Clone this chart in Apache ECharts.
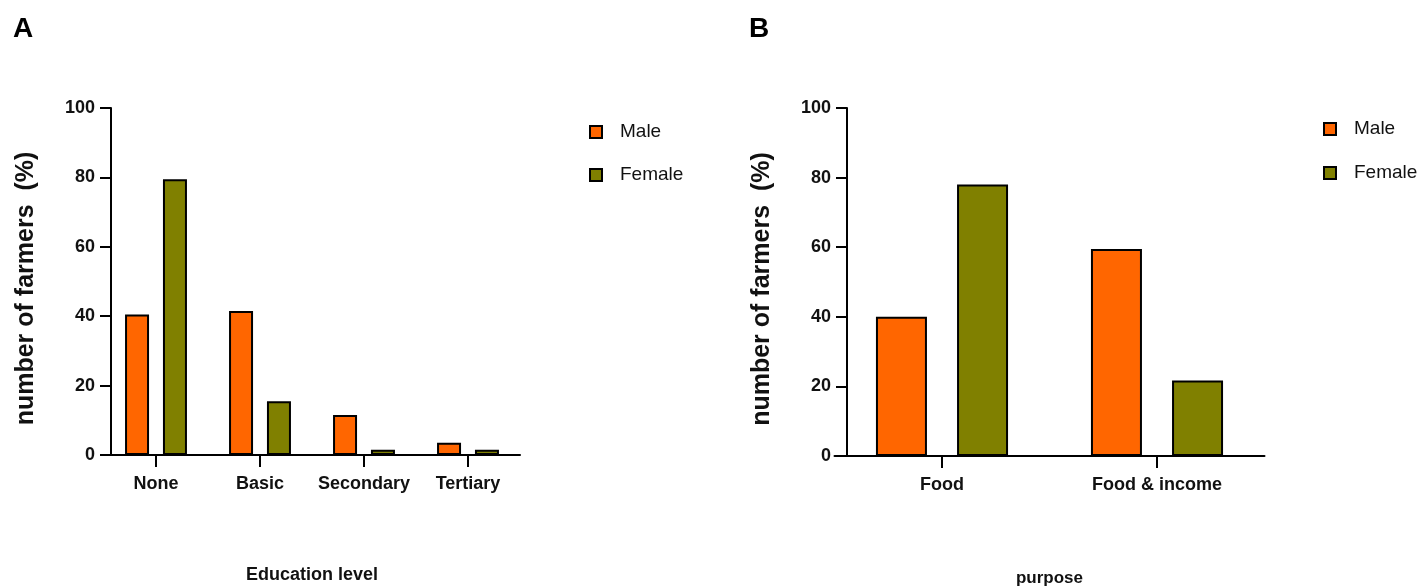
<!DOCTYPE html>
<html><head><meta charset="utf-8">
<script src="https://cdn.jsdelivr.net/npm/echarts@6/dist/echarts.min.js"></script>
<style>html,body{margin:0;padding:0;background:#fff}#c{width:1424px;height:588px}</style>
</head><body><div id="c"></div>
<script>
// ---- data ----
const educationLevels = ['None', 'Basic', 'Secondary', 'Tertiary'];
const educationMale = [40.5, 41.5, 11.5, 3.5];
const educationFemale = [79.5, 15.5, 1.5, 1.5];
const purposes = ['Food', 'Food & income'];
const purposeMale = [40, 59.5];
const purposeFemale = [78, 21.7];
const seriesNames = ['Male', 'Female'];
const panelLabels = ['A', 'B'];
const xTitles = ['Education level', 'purpose'];
const yTitle = 'number of farmers  (%)';
const yMin = 0, yMax = 100, yInterval = 20;

// ---- styles ----
const FONT = "'Liberation Sans', Arial, sans-serif";
const MALE_COLOR = '#FF6600';
const FEMALE_COLOR = '#808000';

function yAxisCfg(gridIndex, offset) {
  return {
    type: 'value', gridIndex: gridIndex, min: yMin, max: yMax, interval: yInterval,
    offset: offset,
    name: yTitle, nameLocation: 'middle', nameGap: 72, nameRotate: 90,
    nameTextStyle: { fontFamily: FONT, fontWeight: 'bold', fontSize: 25, color: '#111', padding: [0, 14, 0, 0] },
    axisLine: { show: true, lineStyle: { color: '#000', width: 2 } },
    axisTick: { show: true, length: 11, lineStyle: { color: '#000', width: 2 } },
    axisLabel: { fontFamily: FONT, fontWeight: 'bold', fontSize: 18, color: '#111', margin: 16 },
    splitLine: { show: false }
  };
}
function xAxisCfg(gridIndex, cats, title, nameGap, nameSize) {
  return {
    type: 'category', gridIndex: gridIndex, data: cats,
    name: title, nameLocation: 'middle', nameGap: nameGap,
    nameTextStyle: { fontFamily: FONT, fontWeight: 'bold', fontSize: nameSize, color: '#111' },
    axisLine: { show: true, lineStyle: { color: '#000', width: 2 } },
    axisTick: { show: true, alignWithLabel: true, interval: 0, length: 12, lineStyle: { color: '#000', width: 2 } },
    axisLabel: { interval: 0, fontFamily: FONT, fontWeight: 'bold', fontSize: 18, color: '#111', margin: 20 },
    splitLine: { show: false }
  };
}
function barSeries(name, data, color, idx, width, gap) {
  return {
    name: name, type: 'bar', data: data, xAxisIndex: idx, yAxisIndex: idx,
    barWidth: width, barGap: gap,
    itemStyle: { color: color, borderColor: '#000', borderWidth: 2 }
  };
}
function legendCfg(left, top, gap) {
  return {
    orient: 'vertical', left: left, top: top, itemGap: gap,
    itemWidth: 12, itemHeight: 12, icon: 'rect',
    data: [
      { name: seriesNames[0], itemStyle: { color: MALE_COLOR, borderColor: '#000', borderWidth: 2 } },
      { name: seriesNames[1], itemStyle: { color: FEMALE_COLOR, borderColor: '#000', borderWidth: 2 } }
    ],
    textStyle: { fontFamily: FONT, fontSize: 19, color: '#111', padding: [0, 0, 0, 13] }
  };
}

const chart = echarts.init(document.getElementById('c'), null, { renderer: 'canvas' });
chart.setOption({
  animation: false,
  backgroundColor: '#fff',
  title: [
    { text: panelLabels[0], left: 8, top: 10, textStyle: { fontFamily: FONT, fontWeight: 'bold', fontSize: 28, color: '#000' } },
    { text: panelLabels[1], left: 744, top: 10, textStyle: { fontFamily: FONT, fontWeight: 'bold', fontSize: 28, color: '#000' } }
  ],
  legend: [legendCfg(584, 117.5, 24), legendCfg(1318, 114.5, 25)],
  grid: [
    { left: 104, top: 108, width: 416, height: 347, containLabel: false, outerBoundsMode: 'none' },
    { left: 834.5, top: 108, width: 430, height: 348, containLabel: false, outerBoundsMode: 'none' }
  ],
  xAxis: [
    xAxisCfg(0, educationLevels, xTitles[0], 111, 18),
    xAxisCfg(1, purposes, xTitles[1], 114, 17)
  ],
  yAxis: [yAxisCfg(0, -7), yAxisCfg(1, -12.5)],
  series: [
    barSeries(seriesNames[0], educationMale, MALE_COLOR, 0, 24, '58%'),
    barSeries(seriesNames[1], educationFemale, FEMALE_COLOR, 0, 24, '58%'),
    barSeries(seriesNames[0], purposeMale, MALE_COLOR, 1, 51, '59%'),
    barSeries(seriesNames[1], purposeFemale, FEMALE_COLOR, 1, 51, '59%')
  ]
});
</script>
</body></html>
